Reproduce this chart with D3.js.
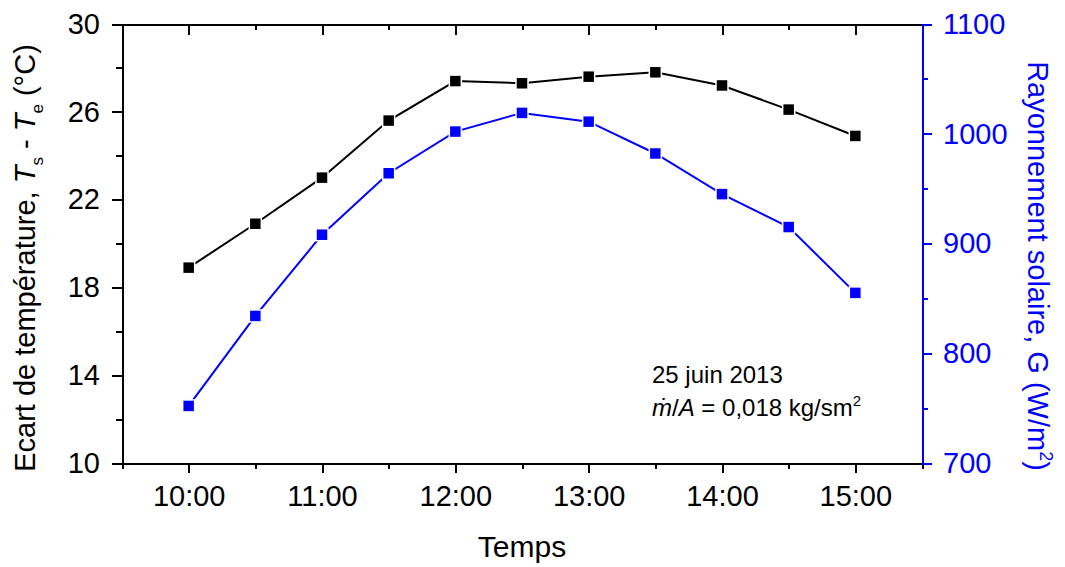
<!DOCTYPE html>
<html>
<head>
<meta charset="utf-8">
<script src="https://cdn.jsdelivr.net/npm/d3@7"></script>
<style>
	body { margin: 0; background: #fff; }
	svg { display: block; font-family: "Liberation Sans", Arial, sans-serif; }
	.axis path, .axis line { shape-rendering: crispEdges; }
</style>
</head>
<body>
<div class="graph"></div>
<script>
// heures de mesure (h décimales)
var heures = [10, 10.5, 11, 11.5, 12, 12.5, 13, 13.5, 14, 14.5, 15];
var heureLabels = ["10:00", "11:00", "12:00", "13:00", "14:00", "15:00"];
var heureTicks = [10, 11, 12, 13, 14, 15];
var heureMinor = [9.5, 10.5, 11.5, 12.5, 13.5, 14.5, 15.5];

// Ts - Te (°C)
var ecartTemp = [18.9, 20.9, 23.0, 25.6, 27.4, 27.3, 27.6, 27.8, 27.2, 26.1, 24.9];
// G (W/m2)
var rayonnement = [752, 834, 908, 964, 1002, 1019, 1011, 982, 945, 915, 855];

var tempTicks = [10, 14, 18, 22, 26, 30];
var tempMinor = [12, 16, 20, 24, 28];
var rayTicks = [700, 800, 900, 1000, 1100];
var rayMinor = [750, 850, 950, 1050];

const WIDTH = 1065;
const HEIGHT = 567;
const LEFT = 122, RIGHT = 922, TOP = 24, BOTTOM = 463;
const BLUE = "#0000ff";

var xScale = d3.scaleLinear().domain([9.5, 15.5]).range([LEFT, RIGHT]);
var yTemp = d3.scaleLinear().domain([10, 30]).range([BOTTOM, TOP]);
var yRay = d3.scaleLinear().domain([700, 1100]).range([BOTTOM, TOP]);

var svg = d3.select(".graph").append("svg")
	.attr("width", WIDTH)
	.attr("height", HEIGHT);

var styleAxis = function(g, color, size) {
	g.selectAll("path").attr("stroke", color).attr("stroke-width", 2);
	g.selectAll("line").attr("stroke", color).attr("stroke-width", 2);
	g.selectAll("text").attr("fill", color).attr("font-size", size)
		.attr("font-family", "Liberation Sans, Arial, sans-serif");
};

// axe du bas
var xAxis = d3.axisBottom(xScale).tickValues(heureTicks)
	.tickFormat(function(d, i) { return heureLabels[i]; })
	.tickSize(10).tickSizeOuter(0).tickPadding(12);
svg.append("g").attr("class", "x axis")
	.attr("transform", "translate(0," + BOTTOM + ")")
	.call(xAxis).call(styleAxis, "#000", 29);
svg.append("g").attr("class", "axis")
	.attr("transform", "translate(0," + BOTTOM + ")")
	.call(d3.axisBottom(xScale).tickValues(heureMinor).tickSize(6).tickSizeOuter(0).tickFormat(""))
	.call(styleAxis, "#000", 0);

// axe du haut, ticks vers l'intérieur
svg.append("g").attr("class", "axis")
	.attr("transform", "translate(0," + TOP + ")")
	.call(d3.axisBottom(xScale).tickValues(heureTicks).tickSize(11).tickSizeOuter(0).tickFormat(""))
	.call(styleAxis, "#000", 0);
svg.append("g").attr("class", "axis")
	.attr("transform", "translate(0," + TOP + ")")
	.call(d3.axisBottom(xScale).tickValues(heureMinor).tickSize(6).tickSizeOuter(0).tickFormat(""))
	.call(styleAxis, "#000", 0);

// axe gauche
svg.append("g").attr("class", "y axis")
	.attr("transform", "translate(" + LEFT + ",0)")
	.call(d3.axisLeft(yTemp).tickValues(tempTicks).tickSize(10).tickSizeOuter(0).tickPadding(12))
	.call(styleAxis, "#000", 29);
svg.append("g").attr("class", "axis")
	.attr("transform", "translate(" + LEFT + ",0)")
	.call(d3.axisLeft(yTemp).tickValues(tempMinor).tickSize(6).tickSizeOuter(0).tickFormat(""))
	.call(styleAxis, "#000", 0);

// axe droit (bleu)
svg.append("g").attr("class", "y axis")
	.attr("transform", "translate(" + RIGHT + ",0)")
	.call(d3.axisRight(yRay).tickValues(rayTicks).tickFormat(d3.format("d"))
		.tickSize(10).tickSizeOuter(0).tickPadding(11))
	.call(styleAxis, BLUE, 29);
svg.append("g").attr("class", "axis")
	.attr("transform", "translate(" + RIGHT + ",0)")
	.call(d3.axisRight(yRay).tickValues(rayMinor).tickSize(6).tickSizeOuter(0).tickFormat(""))
	.call(styleAxis, BLUE, 0);

// séries
var drawSeries = function(values, yScale, color) {
	var line = d3.line()
		.x(function(d, i) { return xScale(heures[i]); })
		.y(function(d) { return yScale(d); });
	svg.append("path")
		.attr("d", line(values))
		.attr("fill", "none")
		.attr("stroke", color)
		.attr("stroke-width", 2);
	svg.append("g").selectAll("rect").data(values).enter().append("rect")
		.attr("x", function(d, i) { return xScale(heures[i]) - 6; })
		.attr("y", function(d) { return yScale(d) - 6; })
		.attr("width", 12)
		.attr("height", 12)
		.attr("fill", color)
		.attr("stroke", "#fff")
		.attr("stroke-width", 1.5);
};
drawSeries(ecartTemp, yTemp, "#000");
drawSeries(rayonnement, yRay, BLUE);

// titres des axes
svg.append("text")
	.attr("x", (LEFT + RIGHT) / 2).attr("y", 557)
	.attr("text-anchor", "middle").attr("font-size", 30)
	.text("Temps");

var tLeft = svg.append("text")
	.attr("transform", "translate(35,258) rotate(-90)")
	.attr("text-anchor", "middle").attr("font-size", 29);
tLeft.append("tspan").text("Ecart de température, ");
tLeft.append("tspan").attr("font-style", "italic").text("T");
tLeft.append("tspan").attr("font-size", 17).attr("dy", 8).text("s");
tLeft.append("tspan").attr("dy", -8).text(" - ");
tLeft.append("tspan").attr("font-style", "italic").text("T");
tLeft.append("tspan").attr("font-size", 17).attr("dy", 8).text("e");
tLeft.append("tspan").attr("dy", -8).text(" (°C)");

var tRight = svg.append("text")
	.attr("transform", "translate(1028,266) rotate(90)")
	.attr("text-anchor", "middle").attr("font-size", 29)
	.attr("fill", BLUE);
tRight.append("tspan").text("Rayonnement solaire, G (W/m");
tRight.append("tspan").attr("font-size", 18).attr("dy", -12).text("2");
tRight.append("tspan").attr("dy", 12).text(")");

// annotation
svg.append("text")
	.attr("x", 652).attr("y", 383).attr("font-size", 24)
	.text("25 juin 2013");
var note = svg.append("text")
	.attr("x", 652).attr("y", 416).attr("font-size", 24);
note.append("tspan").attr("font-style", "italic").text("ṁ");
note.append("tspan").text("/");
note.append("tspan").attr("font-style", "italic").text("A");
note.append("tspan").text(" = 0,018 kg/sm");
note.append("tspan").attr("font-size", 15).attr("dy", -10).text("2");
</script>
</body>
</html>
